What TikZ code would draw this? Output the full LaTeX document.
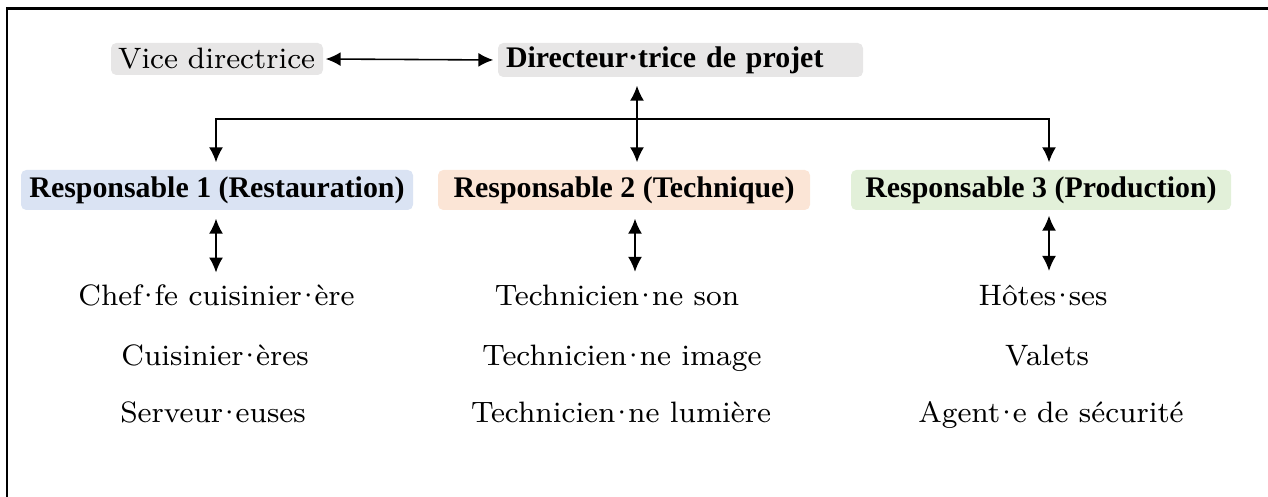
\documentclass[tikz,border=0pt]{standalone}
\usepackage{fontspec}
\usepackage{tikz}
\usetikzlibrary{arrows.meta}

\newfontfamily\headfont{Liberation Serif}
\newcommand\md{\kern-0.2em·\kern-0.2em}

\definecolor{boxgray}{HTML}{E7E6E6}
\definecolor{boxblue}{HTML}{DAE3F3}
\definecolor{boxorange}{HTML}{FBE5D6}
\definecolor{boxgreen}{HTML}{E2F0D9}

\tikzset{
  box/.style={rounded corners=1.5pt, inner xsep=0pt, inner ysep=0pt, align=center},
  head/.style={box, font=\headfont\bfseries\fontsize{8.5}{10}\selectfont, minimum height=0.40cm},
  staff/.style={inner sep=0pt, anchor=base, font=\fontsize{8.4}{10}\selectfont},
  dbl/.style={line width=0.45pt, {Latex[length=0.15cm,width=0.14cm]}-{Latex[length=0.15cm,width=0.14cm]}},
  down/.style={line width=0.45pt, -{Latex[length=0.15cm,width=0.14cm]}}
}

\begin{document}
\begin{tikzpicture}
\useasboundingbox (0,0) rectangle (12.68,-4.97);
\draw[line width=0.8pt] (0.07,-4.97) -- (0.07,-0.085) -- (12.68,-0.085);

\node[box, fill=boxgray, font=\fontsize{8.4}{10}\selectfont, text width=1.98cm, align=left, inner xsep=0.07cm, minimum height=0.32cm] (vice) at (2.17,-0.59) {Vice directrice};
\node[box, fill=boxgray, font=\headfont\bfseries\fontsize{8.5}{10}\selectfont, text width=3.49cm, align=left, inner xsep=0.08cm, minimum height=0.34cm] (dir) at (6.805,-0.60) {Directeur·trice de projet};

\node[head, fill=boxblue, minimum width=3.92cm] (resp1) at (2.17,-1.90) {Responsable 1 (Restauration)};
\node[head, fill=boxorange, minimum width=3.72cm] (resp2) at (6.24,-1.90) {Responsable 2 (Technique)};
\node[head, fill=boxgreen, minimum width=3.80cm] (resp3) at (10.41,-1.90) {Responsable 3 (Production)};

\node[staff] (chef) at (2.165,-3.06) {Chef\md fe cuisinier\md ère};
\node[staff] (cuis) at (2.15,-3.65) {Cuisinier\md ères};
\node[staff] (serv) at (2.13,-4.22) {Serveur\md euses};
\node[staff] (tson) at (6.17,-3.05) {Technicien\md ne son};
\node[staff] (timage) at (6.22,-3.65) {Technicien\md ne image};
\node[staff] (tlum) at (6.21,-4.22) {Technicien\md ne lumière};
\node[staff] (hotes) at (10.43,-3.06) {Hôtes\md ses};
\node[staff] (valets) at (10.47,-3.65) {Valets};
\node[staff] (agent) at (10.51,-4.22) {Agent\md e de sécurité};

\coordinate (bus) at (6.37,-1.19);
\coordinate (col1) at (2.16,0);
\coordinate (col2) at (6.35,0);
\coordinate (col3) at (10.49,0);

\draw[dbl, shorten <=0.02cm, shorten >=0.04cm] (vice.east) -- (dir.west);
\draw[dbl] ([yshift=-0.08cm]dir.south -| bus) -- ([yshift=0.07cm]resp2.north -| bus);
\draw[down] (bus) -| ([yshift=0.07cm]resp1.north -| col1);
\draw[down] (bus) -| ([yshift=0.07cm]resp3.north -| col3);

\draw[dbl] ([yshift=-0.08cm]resp1.south -| col1) -- ([yshift=0.12cm]chef.north -| col1);
\draw[dbl] ([yshift=-0.08cm]resp2.south -| col2) -- ([yshift=0.12cm]tson.north -| col2);
\draw[dbl] ([yshift=-0.05cm]resp3.south -| col3) -- ([yshift=0.14cm]hotes.north -| col3);
\end{tikzpicture}
\end{document}
